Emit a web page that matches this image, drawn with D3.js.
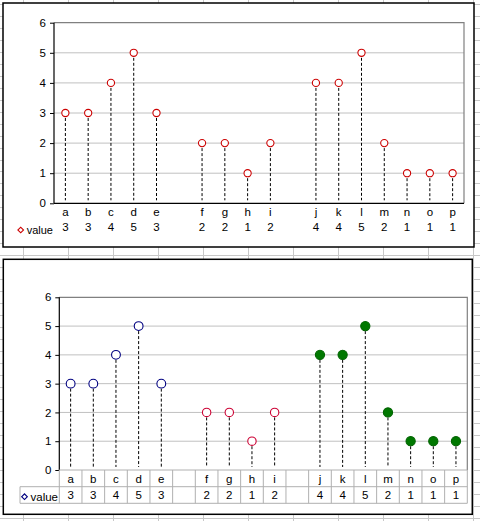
<!DOCTYPE html>
<html><head><meta charset="utf-8">
<script src="https://cdn.jsdelivr.net/npm/d3@7"></script>
<style>
html,body{margin:0;padding:0;background:#fff;}
svg{display:block;}
text{font-family:"Liberation Sans",Arial,sans-serif;fill:#000;}
</style></head>
<body>
<svg id="c" width="480" height="521"></svg>
<script>
// ---- data ----
const categories = ["a","b","c","d","e","","f","g","h","i","","j","k","l","m","n","o","p"];
const values     = [3,3,4,5,3,null,2,2,1,2,null,4,4,5,2,1,1,1];
const groups     = ["A","A","A","A","A",null,"B","B","B","B",null,"C","C","C","C","C","C","C"];
const yTicks     = [0,1,2,3,4,5,6];
const seriesName = "value";

const svg = d3.select("#c");

// spreadsheet cell grid background
const bg = svg.append("g");
bg.append("rect").attr("width",480).attr("height",521).attr("fill","#fff");
const colX = d3.range(0,11).map(k=>23.5+45*k);
const rowY = d3.range(-1,44).map(k=>Math.round(16+11.96*k)+0.5);
bg.selectAll(".vl").data(colX).join("line").attr("x1",d=>d).attr("x2",d=>d).attr("y1",0).attr("y2",521).attr("stroke","#c8c8c8");
bg.selectAll(".hl").data(rowY).join("line").attr("y1",d=>d).attr("y2",d=>d).attr("x1",0).attr("x2",480).attr("stroke","#c8c8c8");

function drawChart(o){
  const g = svg.append("g");
  g.append("rect").attr("x",o.box[0]).attr("y",o.box[1]).attr("width",o.box[2]-o.box[0]).attr("height",o.box[3]-o.box[1])
    .attr("fill","#fff").attr("stroke","#000").attr("stroke-width",1.5);
  const x = d3.scaleBand().domain(d3.range(categories.length)).range([o.left,o.right]);
  const y = d3.scaleLinear().domain([0,6]).range([o.bottom,o.top]);
  // gridlines
  g.selectAll(".grid").data(yTicks.filter(t=>t>0&&t<6)).join("line")
    .attr("x1",o.left).attr("x2",o.right).attr("y1",d=>y(d)).attr("y2",d=>y(d))
    .attr("stroke","#c0c0c0").attr("stroke-width",1);
  // plot border top/right
  g.append("path").attr("d",`M${o.left},${y(6)}H${o.right}V${o.bottom}`).attr("fill","none").attr("stroke","#808080").attr("stroke-width",1.2);
  // y axis
  const ya = d3.axisLeft(y).tickValues(yTicks).tickSize(4).tickPadding(4).tickFormat(d3.format("d"));
  const yg = g.append("g").attr("transform",`translate(${o.left},0)`).call(ya);
  yg.select(".domain").remove();
  yg.selectAll("text").attr("font-size","11.5px").attr("font-family","Liberation Sans, Arial, sans-serif");
  yg.selectAll("line").attr("stroke","#000");
  g.append("line").attr("x1",o.left).attr("x2",o.left).attr("y1",o.top).attr("y2",o.bottom).attr("stroke","#000").attr("stroke-width",1.2);

  if(o.table){
    const tc = "#b0b0b0";
    const r1 = o.bottom, r2 = o.row2, r3 = o.row3;
    g.append("line").attr("x1",o.left).attr("x2",o.right).attr("y1",r1).attr("y2",r1).attr("stroke",tc);
    g.append("line").attr("x1",o.legendLeft).attr("x2",o.right).attr("y1",r2).attr("y2",r2).attr("stroke",tc);
    g.append("line").attr("x1",o.legendLeft).attr("x2",o.right).attr("y1",r3).attr("y2",r3).attr("stroke",tc);
    g.append("line").attr("x1",o.legendLeft).attr("x2",o.legendLeft).attr("y1",r2).attr("y2",r3).attr("stroke",tc);
    const bounds = d3.range(categories.length+1).map(i=> i<categories.length ? x(i) : o.right);
    g.selectAll(".tv").data(bounds).join("line").attr("x1",d=>d).attr("x2",d=>d).attr("y1",r1).attr("y2",r3).attr("stroke",tc);
  } else {
    g.append("line").attr("x1",o.left).attr("x2",o.right).attr("y1",o.bottom).attr("y2",o.bottom).attr("stroke","#000").attr("stroke-width",1.2);
  }
  const idx = d3.range(categories.length);
  // category labels and values
  g.selectAll(".cl").data(idx).join("text").attr("x",i=>x(i)+x.bandwidth()/2).attr("y",o.labY)
    .attr("text-anchor","middle").attr("font-size","11.5px").text(i=>categories[i]);
  g.selectAll(".cv").data(idx.filter(i=>values[i]!=null)).join("text").attr("x",i=>x(i)+x.bandwidth()/2).attr("y",o.valY)
    .attr("text-anchor","middle").attr("font-size","11.5px").text(i=>values[i]);
  // drop lines
  const pts = idx.filter(i=>values[i]!=null);
  g.selectAll(".dl").data(pts).join("line").attr("x1",i=>x(i)+x.bandwidth()/2).attr("x2",i=>x(i)+x.bandwidth()/2)
    .attr("y1",i=>y(values[i])).attr("y2",o.bottom-3).attr("stroke","#000").attr("stroke-width",1).attr("stroke-dasharray","3,2");
  // markers
  g.selectAll(".mk").data(pts).join("circle").attr("cx",i=>x(i)+x.bandwidth()/2).attr("cy",i=>y(values[i]))
    .attr("r",i=>o.style(groups[i]).r).attr("fill",i=>o.style(groups[i]).fill).attr("stroke",i=>o.style(groups[i]).stroke).attr("stroke-width",1.1);
  // legend
  const ls = o.style("A");
  g.append("path").attr("d",d3.symbol(d3.symbolSquare,16)()).attr("transform",`translate(${o.legX},${o.legY}) rotate(45)`)
    .attr("fill","#fff").attr("stroke",ls.stroke).attr("stroke-width",1.1);
  g.append("text").attr("x",o.legX+6).attr("y",o.legY+4).attr("font-size",o.legFont).text(seriesName);
}

drawChart({
  box:[3,3,474,247], left:54, right:464, top:22.7, bottom:203.3,
  labY:216, valY:231, legX:20.7, legY:230, legFont:"11px", table:false,
  style:()=>({r:3.6, fill:"#fff", stroke:"#cc0000"})
});

drawChart({
  box:[3.3,259.3,472.3,514.3], left:59.3, right:467.3, top:297.3, bottom:470,
  row2:486.7, row3:503.3, legendLeft:20,
  labY:482.5, valY:498.5, legX:24.5, legY:496.7, legFont:"11.5px", table:true,
  style:g=> g==="A" ? {r:4.4, fill:"#fff", stroke:"#000080"}
          : g==="B" ? {r:4.2, fill:"#fff", stroke:"#cc0033"}
          : {r:4.6, fill:"#007800", stroke:"#006400"}
});
</script>
</body></html>
